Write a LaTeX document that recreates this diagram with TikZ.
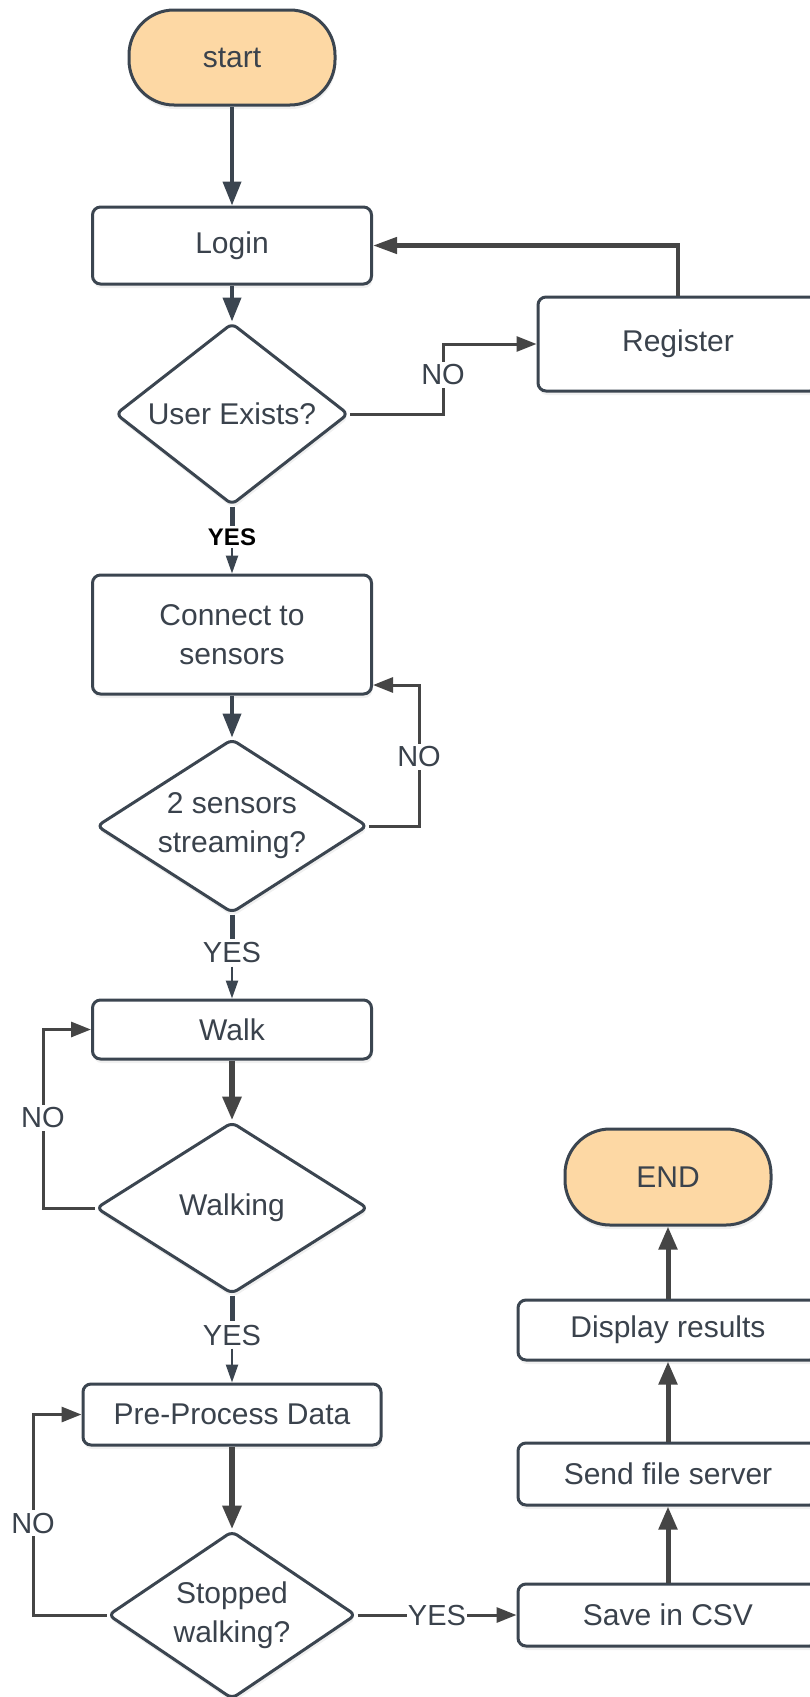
\documentclass[tikz,border=0pt]{standalone}
\usepackage{fontspec}
\setmainfont{Liberation Sans}
\usetikzlibrary{arrows.meta,shapes.geometric,shadows}
\definecolor{edgecol}{HTML}{3B4550}
\definecolor{linegray}{HTML}{454545}
\definecolor{txtcol}{HTML}{3A424C}
\definecolor{termfill}{HTML}{FDD8A4}

\begin{document}
\begin{tikzpicture}[x=0.5pt,y=-0.5pt,
  base/.style={draw=edgecol, line width=1.5pt, text=txtcol,
    font=\fontsize{15pt}{19.5pt}\selectfont, align=center, inner sep=0pt,
    fill=white, drop shadow={opacity=0.12, shadow xshift=0.5pt, shadow yshift=-2pt}},
  term/.style={base, rectangle, rounded corners=22.5pt, fill=termfill},
  proc/.style={base, rectangle, rounded corners=4pt},
  dec/.style={base, diamond, rounded corners=3pt},
  mainarr/.style={draw=edgecol, line width=2pt, -{Triangle[length=12pt,width=9pt]}},
  thickarr/.style={draw=linegray, line width=3pt, -{Triangle[length=12pt,width=9pt]}},
  loopgray/.style={draw=linegray, line width=1.5pt, -{Triangle[length=10pt,width=7.5pt]}},
  backarr/.style={draw=linegray, line width=2.2pt, -{Triangle[length=12pt,width=8pt]}},
  uparr/.style={draw=linegray, line width=2.5pt, -{Triangle[length=11.5pt,width=9pt]}},
  smallarr/.style={draw=edgecol, line width=1.2pt, -{Triangle[length=9pt,width=6pt]}},
  stub/.style={draw=edgecol, line width=2.5pt},
  lbl/.style={fill=white, text=txtcol, font=\fontsize{14.5pt}{17pt}\selectfont, inner sep=1.5pt},
  yesb/.style={fill=white, text=black, font=\bfseries\fontsize{12pt}{14pt}\selectfont, inner sep=1pt}
]
\useasboundingbox (0,0) rectangle (809,1697);

% nodes
\node[term, minimum width=103pt, minimum height=47.5pt] (start) at (232,57.5) {start};
\node[proc, minimum width=139.5pt, minimum height=38.5pt] (login) at (232,245.5) {Login};
\node[dec, minimum width=116.5pt, minimum height=91pt, aspect=1.28] (exists) at (232,414) {User Exists?};
\node[proc, minimum width=140pt, minimum height=47pt] (register) at (678,344) {Register};
\node[proc, minimum width=139.5pt, minimum height=59.5pt] (connect) at (232,634.5) {Connect to\\sensors};
\node[dec, minimum width=135.5pt, minimum height=87pt, aspect=1.56] (stream) at (232,826) {2 sensors\\streaming?};
\node[proc, minimum width=139.5pt, minimum height=29.5pt] (walk) at (232,1029.5) {Walk};
\node[dec, minimum width=136pt, minimum height=86pt, aspect=1.58] (walking) at (232,1208) {Walking};
\node[proc, minimum width=149pt, minimum height=30.5pt] (pre) at (232,1414.5) {Pre-Process Data};
\node[dec, minimum width=124pt, minimum height=84pt, aspect=1.48] (stopped) at (232,1615) {Stopped\\walking?};
\node[proc, minimum width=150pt, minimum height=31pt] (save) at (668,1615) {Save in CSV};
\node[proc, minimum width=150pt, minimum height=31pt] (send) at (668,1474) {Send file server};
\node[proc, minimum width=150pt, minimum height=30pt] (display) at (668,1330) {Display results};
\node[term, minimum width=103pt, minimum height=48pt] (end) at (668,1177) {END};

% main flow
\draw[mainarr] (start.south) -- (login.north);
\draw[mainarr] (login.south) -- (exists.north);

% NO -> Register
\coordinate (k1) at (443,414);
\draw[loopgray] (exists.east) -- (k1) -- (k1 |- register.west) -- (register.west);
\node[lbl] (no1) at (443,375) {NO};

% Register -> Login
\draw[backarr] (register.north) |- (login.east);

% YES -> Connect
\node[yesb] (y1) at (232,537) {YES};
\draw[stub] (exists.south) -- (y1.north);
\draw[smallarr] (y1.south) -- (connect.north);

\draw[mainarr] (connect.south) -- (stream.north);

% NO loop -> Connect
\coordinate (k2) at (419,826);
\coordinate (k3) at (419,685);
\draw[loopgray] (stream.east) -- (k2) -- (k3) -- (k3 -| connect.east);
\node[lbl] (no2) at (419,757) {NO};

% YES -> Walk
\node[lbl] (y2) at (232,953) {YES};
\draw[stub] (stream.south) -- (y2.north);
\draw[smallarr] (y2.south) -- (walk.north);

\draw[thickarr] (walk.south) -- (walking.north);

% NO loop -> Walk
\coordinate (k4) at (43,1208);
\coordinate (k5) at (43,1029.5);
\draw[loopgray] (walking.west) -- (k4) -- (k5) -- (walk.west);
\node[lbl] (no3) at (43,1118) {NO};

% YES -> Pre-Process
\node[lbl] (y3) at (232,1335) {YES};
\draw[stub] (walking.south) -- (y3.north);
\draw[smallarr] (y3.south) -- (pre.north);

\draw[thickarr] (pre.south) -- (stopped.north);

% NO loop -> Pre-Process
\coordinate (k6) at (33,1615);
\coordinate (k7) at (33,1414.5);
\draw[loopgray] (stopped.west) -- (k6) -- (k7) -- (pre.west);
\node[lbl] (no4) at (33,1523) {NO};

% YES -> Save
\node[lbl, inner sep=0.5pt] (y4) at (437,1615) {YES};
\draw[draw=linegray, line width=1.5pt] (stopped.east) -- (y4.west);
\draw[loopgray] (y4.east) -- (save.west);

% right column
\draw[uparr] (save.north) -- (send.south);
\draw[uparr] (send.north) -- (display.south);
\draw[uparr] (display.north) -- (end.south);
\end{tikzpicture}
\end{document}
